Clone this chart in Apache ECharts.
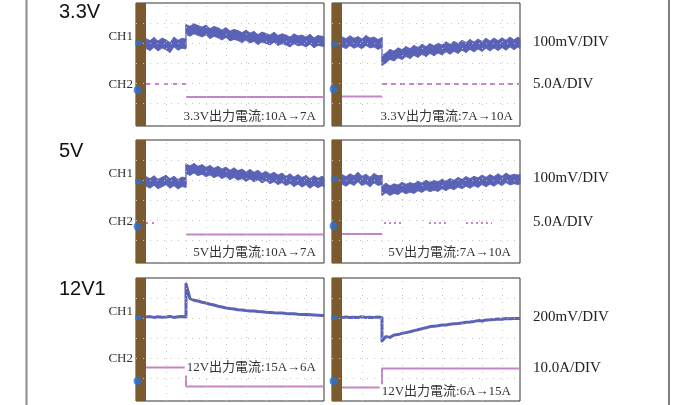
<!DOCTYPE html>
<html><head><meta charset="utf-8">
<script src="https://cdn.jsdelivr.net/npm/echarts/dist/echarts.min.js"></script>
<style>html,body{margin:0;padding:0;background:#fff}#c{width:682px;height:405px}</style>
</head><body><div id="c"></div>
<script>
// time axis in scope divisions (step at 2 div)
const t = [0,0.2,0.4,0.6,0.8,1,1.2,1.4,1.6,1.8,2,2,2.2,2.4,2.6,2.8,3,3.2,3.4,3.6,3.8,4,4.2,4.4,4.6,4.8,5,5.2,5.4,5.6,5.8,6,6.2,6.4,6.6,6.8,7,7.2,7.4,7.6,7.8,8,8.2,8.4,8.6,8.8,8.9];
// CH1 traces (vertical position in divisions from panel bottom)
const p1ch1 = [4.12,4.02,4.18,4.0,4.15,4.06,3.92,4.2,4.04,4.14,4.1, 4.82,
  4.74,4.86,4.78,4.7,4.8,4.62,4.73,4.66,4.55,4.68,4.5,4.58,4.52,4.42,4.55,4.4,4.48,4.32,4.45,4.38,4.3,4.44,4.28,4.36,4.3,4.2,4.36,4.26,4.3,4.2,4.34,4.16,4.28,4.24, 4.22];
const p2ch1 = [4.2,4.12,4.26,4.14,4.22,4.1,4.28,4.15,4.2,4.08,4.18, 3.28,
  3.4,3.58,3.5,3.66,3.57,3.72,3.62,3.78,3.68,3.84,3.72,3.88,3.76,3.9,3.8,3.96,3.84,3.98,3.88,4.04,3.92,4.08,3.95,4.1,3.98,4.14,4.0,4.15,4.02,4.16,4.04,4.2,4.06,4.2, 4.12];
const p3ch1 = [4.08,3.98,4.12,3.95,4.05,4.15,3.98,4.1,3.94,4.06,4.02, 4.72,
  4.62,4.74,4.6,4.68,4.55,4.64,4.5,4.6,4.46,4.56,4.4,4.52,4.38,4.46,4.32,4.44,4.3,4.4,4.24,4.36,4.2,4.3,4.16,4.26,4.1,4.22,4.06,4.18,4.04,4.14,3.98,4.12,4.0,4.1, 4.04];
const p4ch1 = [4.18,4.08,4.22,4.12,4.3,4.1,4.2,4.05,4.24,4.12,4.16, 3.62,
  3.75,3.62,3.72,3.66,3.8,3.7,3.78,3.72,3.85,3.76,3.9,3.8,3.88,3.82,3.95,3.86,3.98,3.9,4.04,3.95,4.08,3.98,4.1,4.02,4.16,4.05,4.18,4.08,4.22,4.1,4.26,4.14,4.2,4.16, 4.2];
const p5ch1 = [4.2,4.22,4.18,4.21,4.19,4.2,4.23,4.18,4.21,4.22,4.2, 5.85,
  5.12,5.04,5.0,4.94,4.9,4.84,4.8,4.74,4.7,4.65,4.62,4.6,4.56,4.55,4.52,4.5,4.5,4.47,4.46,4.44,4.43,4.41,4.4,4.4,4.37,4.36,4.36,4.34,4.33,4.32,4.31,4.3,4.29,4.28, 4.27];
const p6ch1 = [4.18,4.2,4.17,4.19,4.18,4.21,4.18,4.19,4.17,4.2,4.18, 3.0,
  3.22,3.18,3.3,3.32,3.38,3.42,3.46,3.52,3.56,3.62,3.66,3.72,3.74,3.76,3.8,3.8,3.84,3.86,3.87,3.9,3.94,3.95,3.98,4.02,4.0,4.05,4.06,4.08,4.1,4.09,4.12,4.11,4.13,4.12, 4.13];
// CH1 noise band thickness (divisions) per panel
const bandW = [0.5,0.5,0.48,0.48,0,0];
// CH2 traces (current), before / after the step
const p1ch2a = [[0,2.1],[2,2.1]];
const p1ch2b = [[2,1.45],[8.9,1.45]];
const p2ch2a = [[0,1.47],[2,1.47]];
const p2ch2b = [[2,2.1],[8.9,2.1]];
const p3ch2a = [[0,2.0],[0.6,2.0]];
const p3ch2b = [[2,1.43],[8.9,1.43]];
const p4ch2a = [[0,1.45],[2,1.45]];
const p4ch2b = [[2.1,2.0],[3.1,2.0],null,[4.35,2.0],[5.2,2.0],null,[6.2,2.0],[7.5,2.0]];
const p5ch2a = [[0,1.67],[2,1.67],[2,0.72],[8.9,0.72]];
const p5ch2b = [];
const p6ch2a = [[0,0.67],[2,0.67],[2,1.63],[8.9,1.63]];
const p6ch2b = [];
// reference markers
const ch1Ref = [4.15,4.1,4.07,4.2,4.17,4.17];
const ch2Ref = [1.8,1.85,1.82,1.85,1.0,1.0];
// texts
const rowTitles = ['3.3V','5V','12V1'];
const scaleV = ['100mV/DIV','100mV/DIV','200mV/DIV'];
const scaleA = ['5.0A/DIV','5.0A/DIV','10.0A/DIV'];
const captions = ['3.3V出力電流:10A→7A','3.3V出力電流:7A→10A','5V出力電流:10A→7A','5V出力電流:7A→10A','12V出力電流:15A→6A','12V出力電流:6A→15A'];
const gridX = [1,2,3,4,5,6,7,8];
const gridY = [1.15,2.15,3.15,4.15,5.15];

const ch1 = [p1ch1,p2ch1,p3ch1,p4ch1,p5ch1,p6ch1];
const ch2a = [p1ch2a,p2ch2a,p3ch2a,p4ch2a,p5ch2a,p6ch2a];
const ch2b = [p1ch2b,p2ch2b,p3ch2b,p4ch2b,p5ch2b,p6ch2b];
const ch2aType = [[4,5],'solid',[2,4],'solid','solid','solid'];
const ch2bType = ['solid',[5,4],'solid',[2,3],'solid','solid'];

const colLeft = [136, 332];
const rowTop = [3, 140, 278];
const W = 188, H = 123;
const BLUE = '#5a63b8', PINK = '#c683c8';

function bandRenderer(vals, hw){
  return function(params, api){
    const k = params.dataIndex;
    if (k >= t.length - 1) return null;
    const a1 = api.coord([t[k], vals[k]+hw]), b1 = api.coord([t[k+1], vals[k+1]+hw]);
    const b0 = api.coord([t[k+1], vals[k+1]-hw]), a0 = api.coord([t[k], vals[k]-hw]);
    return {type:'polygon', shape:{points:[a1,b1,b0,a0]}, style:{fill:BLUE, stroke:BLUE, lineWidth:0.8}};
  };
}

const grids=[], xAxes=[], yAxes=[], series=[], graphics=[];
for (let i=0;i<6;i++){
  const r = Math.floor(i/2), c = i%2;
  grids.push({left:colLeft[c], top:rowTop[r], width:W, height:H, show:true, borderColor:'#333', borderWidth:1, backgroundColor:'#fff'});
  xAxes.push({gridIndex:i, type:'value', min:-0.5, max:8.9, show:false});
  yAxes.push({gridIndex:i, type:'value', min:0, max:6.15, show:false});
  series.push({type:'line', xAxisIndex:i, yAxisIndex:i, data:ch2a[i], showSymbol:false, symbol:'none',
    lineStyle:{color:PINK, width:2, type:ch2aType[i]}, z:3,
    markArea:{silent:true, itemStyle:{color:'#7b5a2e'}, data:[[{xAxis:-0.5},{xAxis:0}]]},
    markLine:{silent:true, symbol:'none', label:{show:false}, animation:false,
      lineStyle:{color:'#c4c4c4', type:[1,6], width:1},
      data: gridX.map(x=>({xAxis:x})).concat(gridY.map(y=>({yAxis:y})))}
  });
  series.push({type:'line', xAxisIndex:i, yAxisIndex:i, data:ch2b[i], showSymbol:false, symbol:'none', connectNulls:false,
    lineStyle:{color:PINK, width:2, type:ch2bType[i]}, z:3});
  if (bandW[i] > 0) {
    series.push({type:'custom', xAxisIndex:i, yAxisIndex:i, data:t.map((x,k)=>[x,ch1[i][k]]),
      renderItem: bandRenderer(ch1[i], bandW[i]/2), z:4, silent:true});
  } else {
    series.push({type:'line', xAxisIndex:i, yAxisIndex:i, data:t.map((x,k)=>[x,ch1[i][k]]), showSymbol:false, symbol:'none',
      lineStyle:{color:BLUE, width:3, join:'round'}, z:4});
  }
  series.push({type:'scatter', xAxisIndex:i, yAxisIndex:i, data:[[-0.36, ch1Ref[i]]], symbol:'rect', symbolSize:[7,5], itemStyle:{color:'#2b6fd4'}, z:5});
  series.push({type:'scatter', xAxisIndex:i, yAxisIndex:i, data:[[-0.42, ch2Ref[i]]], symbol:'circle', symbolSize:8, itemStyle:{color:'#2b6fd4'}, z:5});
}

// decorative frame lines
graphics.push({type:'line', shape:{x1:26.5,y1:0,x2:26.5,y2:405}, style:{stroke:'#8c8c8c', lineWidth:2}, silent:true});
graphics.push({type:'line', shape:{x1:669,y1:0,x2:669,y2:405}, style:{stroke:'#555', lineWidth:1.5}, silent:true});
const titleY = [12, 151.5, 289.5];
const chY = [[37,85],[174,222],[311.7,359]];
const scY = [[42,84],[178,222],[316.7,367.7]];
for (let r=0;r<3;r++){
  graphics.push({type:'text', x:59, y:titleY[r], style:{text:rowTitles[r], font:'20px "Liberation Sans", Arial, sans-serif', fill:'#111', align:'left', verticalAlign:'middle'}});
  graphics.push({type:'text', x:133, y:chY[r][0], style:{text:'CH1', font:'13px "Liberation Serif", serif', fill:'#333', align:'right', verticalAlign:'middle'}});
  graphics.push({type:'text', x:133, y:chY[r][1], style:{text:'CH2', font:'13px "Liberation Serif", serif', fill:'#333', align:'right', verticalAlign:'middle'}});
  graphics.push({type:'text', x:533, y:scY[r][0], style:{text:scaleV[r], font:'15px "Liberation Serif", serif', fill:'#222', align:'left', verticalAlign:'middle'}});
  graphics.push({type:'text', x:533, y:scY[r][1], style:{text:scaleA[r], font:'15px "Liberation Serif", serif', fill:'#222', align:'left', verticalAlign:'middle'}});
}
const capX = [318,515,318,513,318,513];
const capY = [117,117,253,253,368,391.7];
for (let i=0;i<6;i++){
  graphics.push({type:'text', x:capX[i], y:capY[i], z:100, style:{text:captions[i], font:'13px "Liberation Serif", "Noto Sans CJK JP", serif', fill:'#333', align:'right', verticalAlign:'middle', backgroundColor:'#fff', padding:[1,2]}});
}

const chart = echarts.init(document.getElementById('c'), null, {renderer:'canvas'});
chart.setOption({animation:false, backgroundColor:'#fff', grid:grids, xAxis:xAxes, yAxis:yAxes, series:series, graphic:graphics});
</script></body></html>
